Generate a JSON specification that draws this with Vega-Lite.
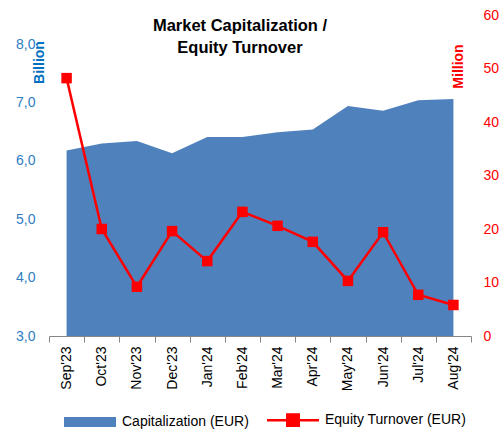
{
  "$schema": "https://vega.github.io/schema/vega-lite/v6.json",
  "width": 422,
  "height": 321,
  "autosize": {"type": "none"},
  "padding": {"left": 49, "top": 15, "right": 29, "bottom": 99},
  "background": "white",
  "config": {"view": {"stroke": null}, "font": "Liberation Sans"},
  "title": {
    "text": ["Market Capitalization /", "Equity Turnover"],
    "anchor": "middle",
    "fontSize": 16.5,
    "fontWeight": "bold",
    "color": "black",
    "dx": -20,
    "baseline": "top",
    "offset": 0,
    "dy": 48,
    "lineHeight": 22
  },
  "data": {
    "values": [
      {"month": "Sep'23", "cap": 6.18, "turnover": 48.2},
      {"month": "Oct'23", "cap": 6.30, "turnover": 20.0},
      {"month": "Nov'23", "cap": 6.34, "turnover": 9.2},
      {"month": "Dec'23", "cap": 6.13, "turnover": 19.6},
      {"month": "Jan'24", "cap": 6.41, "turnover": 14.0},
      {"month": "Feb'24", "cap": 6.41, "turnover": 23.2},
      {"month": "Mar'24", "cap": 6.49, "turnover": 20.6},
      {"month": "Apr'24", "cap": 6.54, "turnover": 17.6},
      {"month": "May'24", "cap": 6.94, "turnover": 10.3},
      {"month": "Jun'24", "cap": 6.86, "turnover": 19.4},
      {"month": "Jul'24", "cap": 7.04, "turnover": 7.7},
      {"month": "Aug'24", "cap": 7.06, "turnover": 5.8}
    ]
  },
  "encoding": {
    "x": {
      "field": "month",
      "type": "ordinal",
      "sort": null,
      "bandPosition": 0.5,
      "scale": {"type": "band", "paddingInner": 0, "paddingOuter": 0},
      "axis": {
        "title": null,
        "domainColor": "#868686",
        "tickColor": "#868686",
        "tickSize": 6,
        "tickBand": "extent",
        "labelAngle": -90,
        "labelAlign": "right",
        "labelBaseline": "middle",
        "labelPadding": 4,
        "labelColor": "black",
        "labelFontSize": 14,
        "grid": false
      }
    }
  },
  "layer": [
    {
      "mark": {"type": "area", "clip": true},
      "encoding": {
        "y": {
          "field": "cap",
          "type": "quantitative",
          "scale": {"domain": [3, 8.5], "zero": false, "nice": false},
          "axis": {
            "orient": "left",
            "values": [3, 4, 5, 6, 7, 8],
            "labelExpr": "replace(format(datum.value, '.1f'), '.', ',')",
            "domain": false,
            "ticks": false,
            "grid": false,
            "labelColor": "#2E7DC2",
            "labelFontSize": 14,
            "labelPadding": 14,
            "title": "Billion",
            "titleColor": "#0070C0",
            "titleFontWeight": "bold",
            "titleFontSize": 14,
            "titleAngle": -90,
            "titleAlign": "center",
            "titleBaseline": "bottom",
            "titleX": -3,
            "titleY": 47
          }
        },
        "color": {
          "datum": "Capitalization (EUR)",
          "scale": {"domain": ["Capitalization (EUR)", "Equity Turnover (EUR)"], "range": ["#4F81BD", "#FF0000"]},
          "legend": {
            "title": null,
            "orient": "none",
            "direction": "horizontal",
            "legendX": 34,
            "legendY": 398,
            "padding": 0,
            "labelFontSize": 14,
            "labelColor": "black",
            "labelOffset": 25,
            "columnPadding": 13,
            "symbolSize": 2704,
            "labelLimit": 300,
            "encode": {
              "symbols": {
                "update": {
                  "shape": {"signal": "datum.value === 'Capitalization (EUR)' ? 'M-1,-0.19H1V0.19H-1Z' : 'M-1,0H1M-0.22,-0.22H0.22V0.22H-0.22Z'"},
                  "fill": {"signal": "datum.value === 'Capitalization (EUR)' ? '#4F81BD' : '#FF0000'"},
                  "stroke": {"signal": "datum.value === 'Capitalization (EUR)' ? '#4F81BD' : '#FF0000'"},
                  "strokeWidth": {"signal": "datum.value === 'Capitalization (EUR)' ? 0 : 2.5"},
                  "opacity": {"value": 1},
                  "fillOpacity": {"value": 1}
                }
              }
            }
          }
        }
      }
    },
    {
      "mark": {"type": "line", "strokeWidth": 2.5, "point": {"shape": "square", "size": 110, "filled": true, "opacity": 1}},
      "encoding": {
        "y": {
          "field": "turnover",
          "type": "quantitative",
          "scale": {"domain": [0, 60], "nice": false},
          "axis": {
            "orient": "right",
            "values": [0, 10, 20, 30, 40, 50, 60],
            "domain": false,
            "ticks": false,
            "grid": false,
            "labelColor": "#FF0000",
            "labelFontSize": 14,
            "labelPadding": 12,
            "title": "Million",
            "titleColor": "#FF0000",
            "titleFontWeight": "bold",
            "titleFontSize": 14,
            "titleAngle": -90,
            "titleAlign": "center",
            "titleBaseline": "bottom",
            "titleX": -6,
            "titleY": 51
          }
        },
        "color": {"datum": "Equity Turnover (EUR)"}
      }
    }
  ],
  "resolve": {"scale": {"y": "independent"}}
}
